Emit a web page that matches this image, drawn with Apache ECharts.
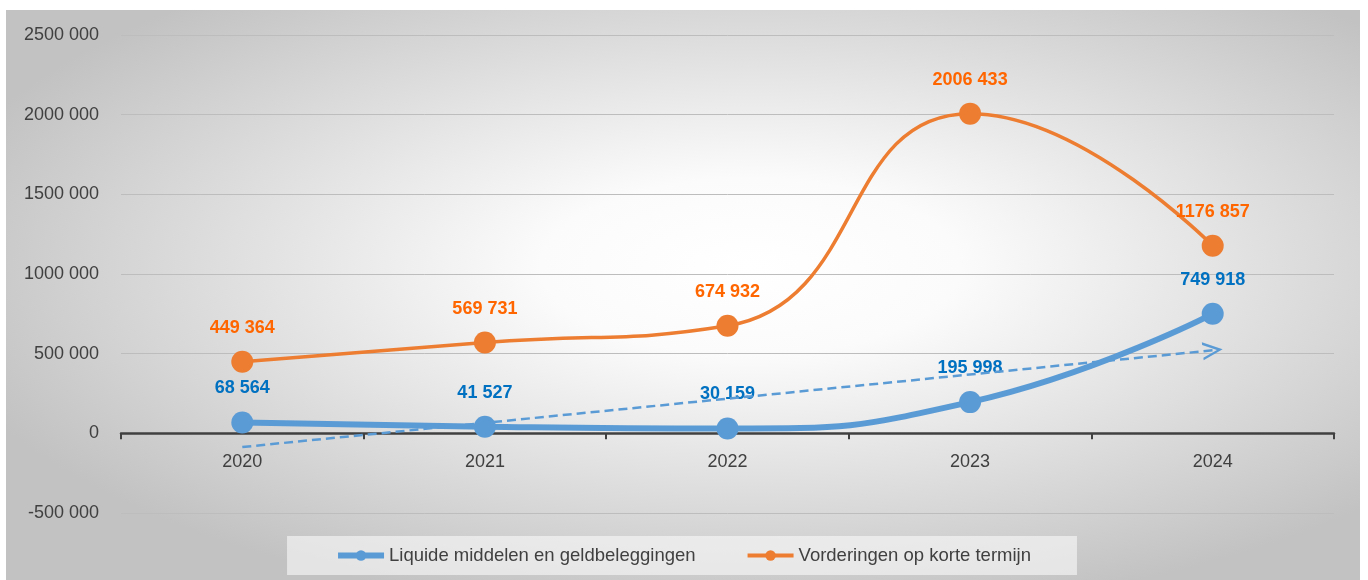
<!DOCTYPE html>
<html>
<head>
<meta charset="utf-8">
<script src="https://cdn.jsdelivr.net/npm/echarts@6/dist/echarts.min.js"></script>
<style>
html,body{margin:0;padding:0;background:#fff;}
#chart{position:absolute;left:6px;top:10px;width:1354px;height:570px;}
</style>
</head>
<body>
<div id="chart"></div>
<script>
var years = ['2020','2021','2022','2023','2024'];
var liquide = [68564, 41527, 30159, 195998, 749918];
var vorderingen = [449364, 569731, 674932, 2006433, 1176857];
// trendline (blue): start at 2020, end at 2024
var trendStart = -86000;
var trendEnd = 521000;
var yTicks = [-500000, 0, 500000, 1000000, 1500000, 2000000, 2500000];

function fmt(v){
    var s = String(Math.abs(v));
    var out = s;
    if (s.length > 3) out = s.slice(0, s.length-3) + ' ' + s.slice(s.length-3);
    return (v < 0 ? '-' : '') + out;
}

var chart = echarts.init(document.getElementById('chart'));
var font = 'Liberation Sans, Arial, sans-serif';
var W = 1354, H = 570;

var option = {
    backgroundColor: '#ffffff',
    textStyle: {fontFamily: font},
    animation: false,
    graphic: [{
        type: 'rect',
        silent: true,
        z: -100,
        x: 0, y: 0,
        scaleX: W / H,
        shape: {x: 0, y: 0, width: H, height: H},
        style: {
            fill: {
                type: 'radial', x: 0.55, y: 0.45, r: 0.62,
                colorStops: [
                    {offset: 0, color: '#ffffff'},
                    {offset: 0.25, color: '#fbfbfb'},
                    {offset: 1, color: '#c2c2c2'}
                ]
            }
        }
    }],
    grid: {left: 115, right: 26, top: 25, bottom: 67},
    legend: {
        bottom: 5,
        left: 'center',
        backgroundColor: 'rgba(250,250,250,0.6)',
        padding: [10, 46, 10, 48],
        itemGap: 50,
        itemWidth: 46,
        itemHeight: 13,
        textStyle: {fontSize: 18.5, color: '#404040', fontFamily: font},
        data: [
            {name: 'Liquide middelen en geldbeleggingen', lineStyle: {width: 6}},
            {name: 'Vorderingen op korte termijn', lineStyle: {width: 4}}
        ]
    },
    xAxis: {
        type: 'category',
        data: years,
        boundaryGap: true,
        axisLine: {onZero: true, lineStyle: {color: '#404040', width: 2.5}},
        axisTick: {show: true, length: 6, lineStyle: {color: '#404040', width: 2}},
        axisLabel: {fontSize: 18, color: '#404040', margin: -60}
    },
    yAxis: {
        type: 'value',
        min: -500000,
        max: 2500000,
        interval: 500000,
        axisLine: {show: false},
        axisTick: {show: false},
        axisLabel: {
            fontSize: 18, color: '#404040', margin: 22,
            formatter: function(v){ return yTicks.indexOf(v) >= 0 ? fmt(v) : ''; }
        },
        splitLine: {lineStyle: {color: '#bdbdbd', width: 1}}
    },
    series: [
        {
            name: 'Vorderingen op korte termijn',
            type: 'line',
            data: vorderingen,
            smooth: 0.5,
            symbol: 'circle',
            symbolSize: 22,
            itemStyle: {color: '#ed7d31'},
            lineStyle: {color: '#ed7d31', width: 3.5},
            label: {
                show: true, position: 'top', distance: 14,
                color: '#ff6600', fontWeight: 'bold', fontSize: 18,
                formatter: function(p){ return fmt(p.value); }
            },
            z: 2
        },
        {
            name: 'Liquide middelen en geldbeleggingen',
            type: 'line',
            data: liquide,
            smooth: 0.5,
            symbol: 'circle',
            symbolSize: 22,
            itemStyle: {color: '#5b9bd5'},
            lineStyle: {color: '#5b9bd5', width: 6},
            label: {
                show: true, position: 'top', distance: 14,
                color: '#0070c0', fontWeight: 'bold', fontSize: 18,
                formatter: function(p){ return fmt(p.value); }
            },
            markLine: {
                silent: true,
                symbol: ['none', 'path://M0,14 L7,0 L14,14 L12,14 L7,4 L2,14 Z'],
                symbolSize: [18, 20],
                label: {show: false},
                lineStyle: {color: '#5b9bd5', width: 2.5, type: [9, 5]},
                data: [[
                    {coord: [years[0], trendStart]},
                    {coord: [years[years.length-1], trendEnd]}
                ]],
                z: 5
            },
            z: 3
        }
    ]
};
chart.setOption(option);
window.onresize = chart.resize;
</script>
</body>
</html>
